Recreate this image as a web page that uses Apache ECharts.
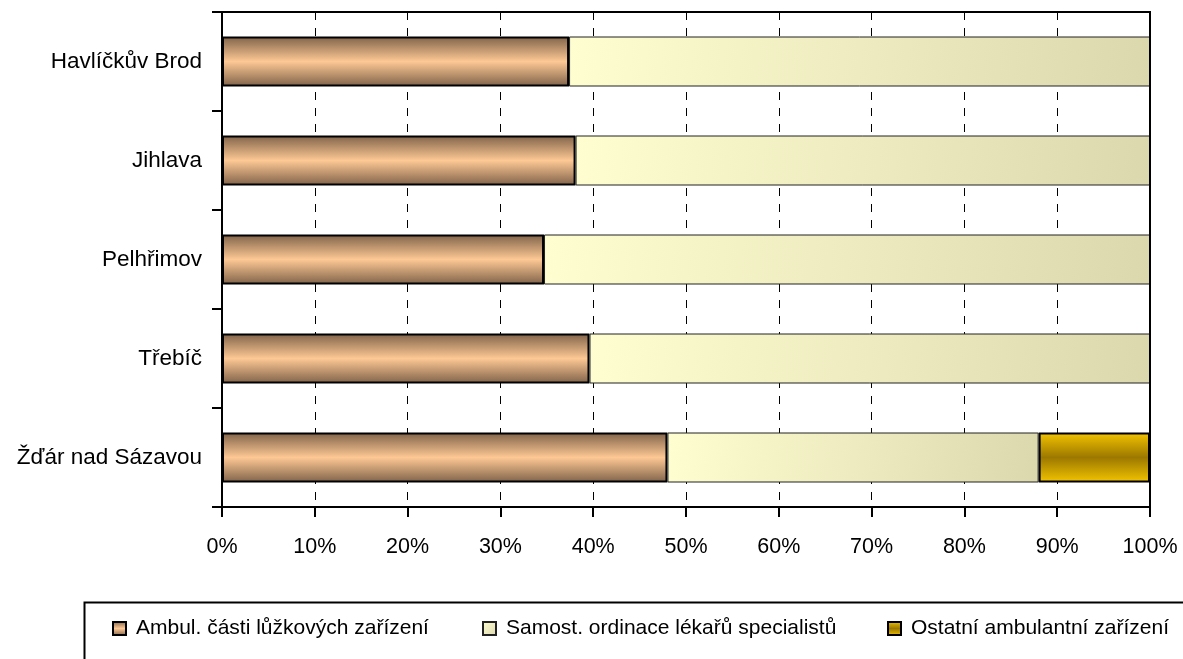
<!DOCTYPE html>
<html>
<head>
<meta charset="utf-8">
<script src="https://cdn.jsdelivr.net/npm/echarts@6/dist/echarts.min.js"></script>
<style>
  html, body { margin: 0; padding: 0; background: #fff; }
  #chart { width: 1183px; height: 659px; }
</style>
</head>
<body>
<div id="chart"></div>
<script>
// okresy (shora dolů)
const districts = ['Havlíčkův Brod', 'Jihlava', 'Pelhřimov', 'Třebíč', 'Žďár nad Sázavou'];
const seriesNames = ['Ambul. části lůžkových zařízení', 'Samost. ordinace lékařů specialistů', 'Ostatní ambulantní zařízení'];
// podíly v %
const ambulLuzk = [37.4, 38.1, 34.7, 39.6, 48.0];
const samostOrd = [62.6, 61.9, 65.3, 60.4, 40.0];
const ostatni = [0, 0, 0, 0, 12.0];
const xTicks = [0, 10, 20, 30, 40, 50, 60, 70, 80, 90, 100];

const labelFont = "'Liberation Sans', Arial, sans-serif";

// prechody barev
const brownFill = new echarts.graphic.LinearGradient(0, 0, 0, 1, [
  { offset: 0, color: '#7f6249' },
  { offset: 0.5, color: '#fdc894' },
  { offset: 1, color: '#7f6249' }
]);
const paleFill = new echarts.graphic.LinearGradient(0, 0, 1, 1, [
  { offset: 0, color: '#fefed0' },
  { offset: 1, color: '#dcd8ae' }
]);
const goldFill = new echarts.graphic.LinearGradient(0, 0, 0, 1, [
  { offset: 0, color: '#f4c400' },
  { offset: 0.5, color: '#9c7800' },
  { offset: 1, color: '#f4c400' }
]);

const chart = echarts.init(document.getElementById('chart'), null, { renderer: 'canvas' });

// legenda - kazda polozka zvlast, at sedi pozice
const legendLeft = [112, 482, 887];
const legends = seriesNames.map((n, i) => ({
  left: legendLeft[i],
  top: 618,
  padding: 0,
  itemWidth: 13,
  itemHeight: 13,
  textStyle: {
    color: '#000',
    fontFamily: labelFont,
    fontSize: 21,
    padding: [0, 0, 0, 5]
  },
  data: [{ name: n, icon: 'rect' }]
}));

const option = {
  animation: false,
  grid: {
    left: 222,
    right: 33,
    top: 12,
    bottom: 152,
    outerBoundsMode: 'none',
    containLabel: false,
    show: true,
    borderColor: '#000',
    borderWidth: 2
  },
  xAxis: {
    type: 'value',
    min: xTicks[0],
    max: xTicks[xTicks.length - 1],
    interval: 10,
    axisLine: { show: true, lineStyle: { color: '#000', width: 2 } },
    axisTick: { show: true, length: 10, lineStyle: { color: '#000', width: 2 } },
    axisLabel: {
      margin: 29,
      color: '#000',
      fontFamily: labelFont,
      fontSize: 21.5,
      formatter: v => v + '%'
    },
    splitLine: { show: true, lineStyle: { color: '#000', width: 1, type: [8, 8] } }
  },
  yAxis: {
    type: 'category',
    inverse: true,
    data: districts,
    axisLine: { show: true, lineStyle: { color: '#000', width: 2 } },
    axisTick: { show: true, length: 10, lineStyle: { color: '#000', width: 2 } },
    axisLabel: {
      margin: 20,
      color: '#000',
      fontFamily: labelFont,
      fontSize: 22.5
    }
  },
  legend: legends,
  graphic: [
    {
      type: 'rect',
      left: 82,
      top: 600,
      shape: { x: 0, y: 0, width: 1200, height: 100 },
      style: { fill: 'none', stroke: '#000', lineWidth: 2 },
      silent: true
    }
  ],
  series: [
    {
      name: seriesNames[0],
      type: 'bar',
      stack: 'total',
      barWidth: 50,
      data: ambulLuzk,
      itemStyle: { color: brownFill, borderColor: '#000', borderWidth: 2 }
    },
    {
      name: seriesNames[1],
      type: 'bar',
      stack: 'total',
      barWidth: 50,
      data: samostOrd,
      itemStyle: { color: paleFill, borderColor: '#222', borderWidth: 1 }
    },
    {
      name: seriesNames[2],
      type: 'bar',
      stack: 'total',
      barWidth: 50,
      data: ostatni,
      itemStyle: { color: goldFill, borderColor: '#000', borderWidth: 2 }
    }
  ]
};

chart.setOption(option);
</script>
</body>
</html>
